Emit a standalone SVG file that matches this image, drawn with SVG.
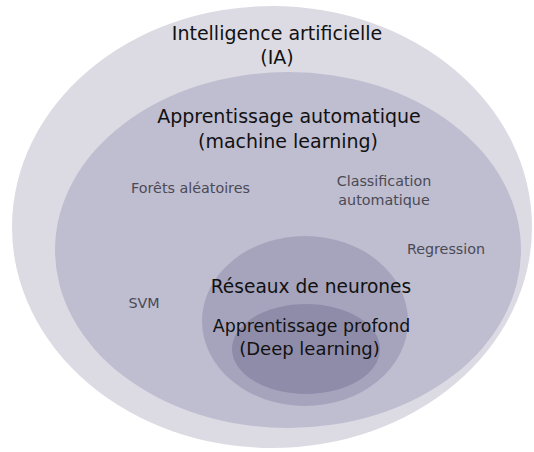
<svg xmlns="http://www.w3.org/2000/svg" width="534" height="452" viewBox="0 0 534 452">
<style>
text{font-family:"DejaVu Sans","Liberation Sans",sans-serif;text-anchor:middle}
.big{font-size:19px;fill:#111}
.mid{font-size:18px;fill:#111}
.small{font-size:14.3px;fill:#4a4a55}
</style>
<rect width="534" height="452" fill="#ffffff"/>
<g id="ia">
<ellipse cx="272" cy="227" rx="260" ry="221" fill="#dcdbe4"/>
<text class="big" x="277" y="40">Intelligence artificielle</text>
<text class="big" x="277" y="64">(IA)</text>
</g>
<g id="ml">
<ellipse cx="288" cy="250" rx="233" ry="178" fill="#bfbdd0"/>
<text class="big" x="289" y="123">Apprentissage automatique</text>
<text class="big" x="288" y="148">(machine learning)</text>
</g>
<g id="forets"><text class="small" x="190.5" y="193">Forêts aléatoires</text></g>
<g id="classif"><text class="small" x="384" y="186">Classification</text><text class="small" x="384" y="204.5">automatique</text></g>
<g id="regression"><text class="small" x="446" y="254">Regression</text></g>
<g id="svm"><text class="small" x="144" y="308">SVM</text></g>
<g id="nn">
<ellipse cx="305" cy="321" rx="103" ry="85" fill="#a6a4bc"/>
<text class="big" x="311" y="293" style="font-size:18.6px">Réseaux de neurones</text>
</g>
<g id="dl">
<ellipse cx="306" cy="349" rx="74" ry="45" fill="#8f8caa"/>
<text class="mid" x="311.5" y="332" style="font-size:17.4px">Apprentissage profond</text>
<text class="mid" x="309.5" y="355">(Deep learning)</text>
</g>
<g id="connectors"/>
</svg>
